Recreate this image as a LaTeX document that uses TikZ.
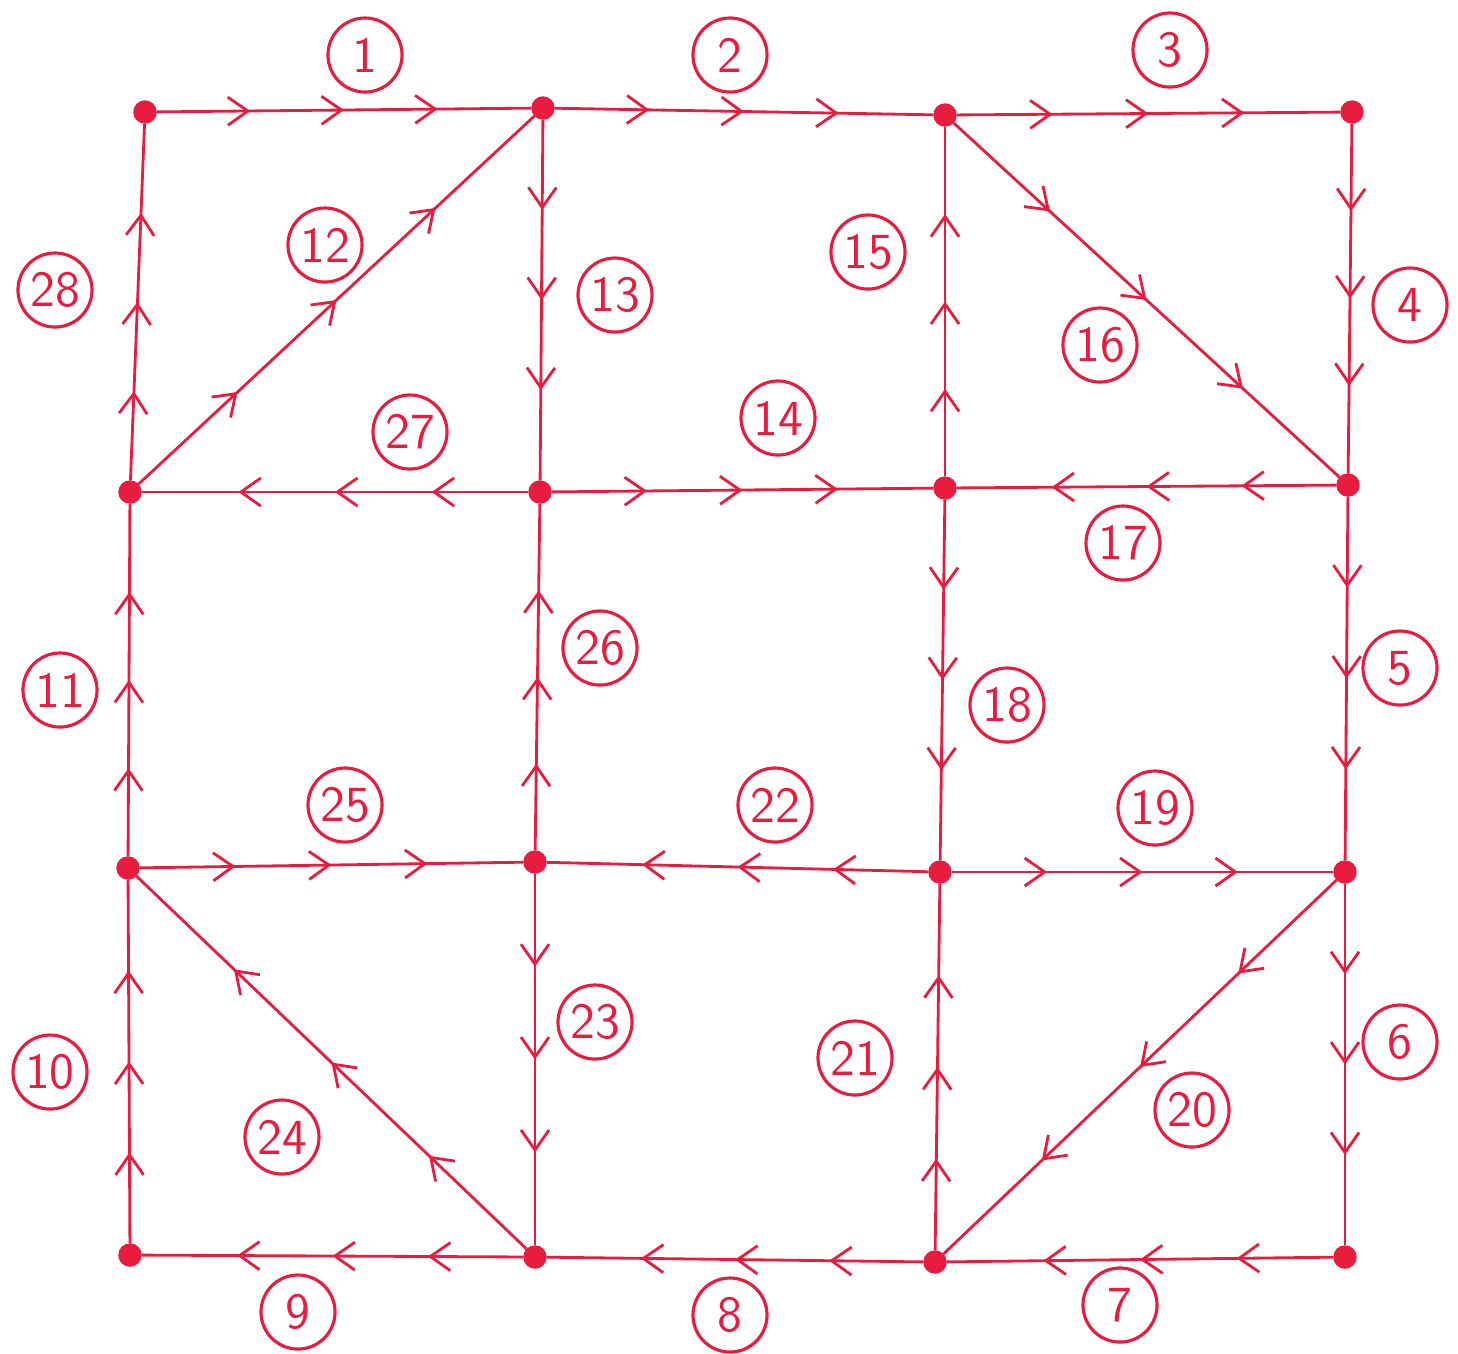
\documentclass[tikz,border=0pt]{standalone}
\usepackage{tikz}
\usetikzlibrary{arrows.meta,decorations.markings}
\definecolor{pen}{RGB}{232,28,62}

\tikzset{
  vtx/.style={circle,fill=pen,draw=pen,inner sep=0pt,minimum size=2.2mm},
  lbl/.style={circle,draw=pen,line width=0.9pt,text=pen,inner sep=0pt,minimum size=7.4mm,font=\sffamily\Large},
  flow/.style={draw=pen,line width=0.8pt,postaction={decorate},
    decoration={markings,mark=between positions 0.25 and 0.75 step 0.25 with {\arrow{Straight Barb[length=2mm,width=2.8mm,line width=0.8pt]}}}}
}

\begin{document}
\begin{tikzpicture}[x=0.01cm,y=-0.01cm]
\useasboundingbox (0,0) rectangle (1458,1353);

% vertices
\node[vtx] (a0) at (145,112) {};
\node[vtx] (a1) at (543,108) {};
\node[vtx] (a2) at (945,115) {};
\node[vtx] (a3) at (1352,112) {};
\node[vtx] (b0) at (130,492) {};
\node[vtx] (b1) at (540,492) {};
\node[vtx] (b2) at (945,488) {};
\node[vtx] (b3) at (1348,485) {};
\node[vtx] (c0) at (128,868) {};
\node[vtx] (c1) at (535,862) {};
\node[vtx] (c2) at (940,872) {};
\node[vtx] (c3) at (1345,872) {};
\node[vtx] (d0) at (130,1255) {};
\node[vtx] (d1) at (535,1257) {};
\node[vtx] (d2) at (935,1262) {};
\node[vtx] (d3) at (1345,1257) {};

% edges
\foreach \s/\t in {a0/a1,a1/a2,a2/a3,a3/b3,b3/c3,c3/d3,d3/d2,d2/d1,d1/d0,
  d0/c0,c0/b0,b0/a1,a1/b1,b1/b2,b2/a2,a2/b3,b3/b2,b2/c2,c2/c3,c3/d2,
  d2/c2,c2/c1,c1/d1,d1/c0,c0/c1,c1/b1,b1/b0,b0/a0}
  \draw[flow] (\s) -- (\t);

% labels
\foreach \n/\x/\y in {1/365/55,2/730/55,3/1170/50,4/1410/305,5/1400/668,
  6/1400/1042,7/1120/1305,8/730/1315,9/298/1312,10/50/1072,11/60/690,
  12/325/245,13/615/295,14/778/418,15/868/252,16/1100/345,17/1123/543,
  18/1007/705,19/1155/808,20/1192/1110,21/855/1058,22/775/805,23/595/1022,
  24/282/1137,25/345/805,26/600/648,27/410/432,28/55/290}
  \node[lbl] (l\n) at (\x,\y) {\n};
\end{tikzpicture}
\end{document}
